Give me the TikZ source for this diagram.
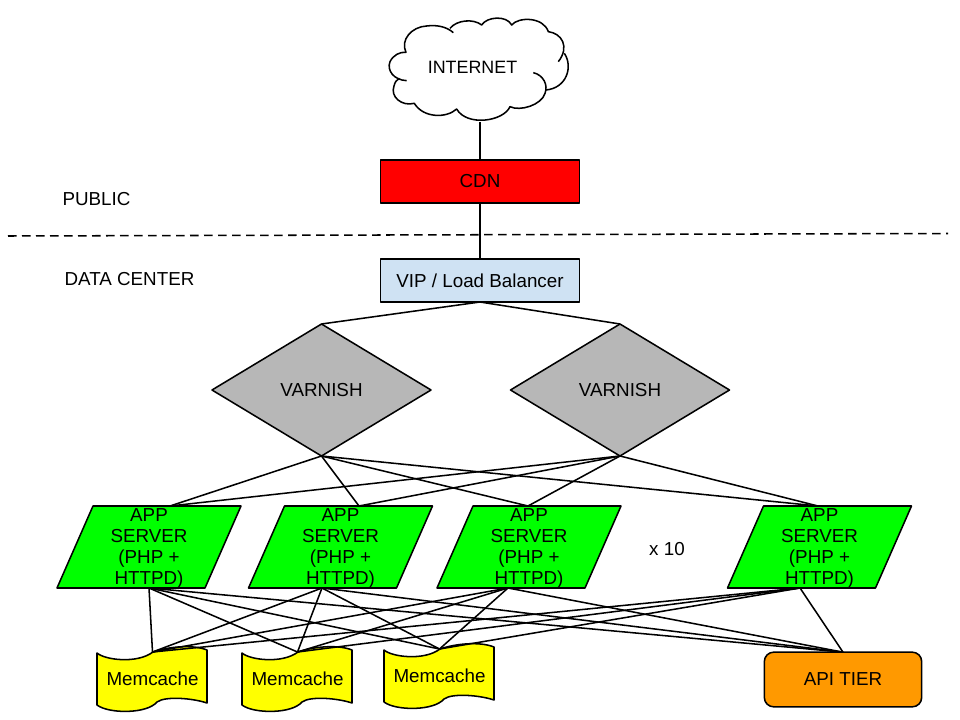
\documentclass[tikz,border=0pt]{standalone}
\usepackage{fontspec}
\setmainfont{Liberation Sans}
\usepackage{xcolor}
\usetikzlibrary{shapes.geometric}
\definecolor{cdnred}{RGB}{255, 0, 0}
\definecolor{vipblue}{RGB}{207, 226, 243}
\definecolor{varnishgray}{RGB}{183, 183, 183}
\definecolor{appgreen}{RGB}{0, 255, 0}
\definecolor{memyellow}{RGB}{255, 255, 0}
\definecolor{apiorange}{RGB}{255, 153, 0}
\tikzset{
  every node/.style={font=\fontsize{14.1}{15.8}\selectfont,inner sep=0pt,outer sep=0pt,align=center},
  edge/.style={line width=1.15pt,line join=round,black},
  boxnode/.style={edge,draw,minimum width=149.25pt,minimum height=32.25pt},
  varnishnode/.style={edge,draw,diamond,aspect=1.66,fill=varnishgray,minimum width=164.25pt,minimum height=99pt},
  appnode/.style={minimum width=138pt,minimum height=61.5pt},
  memnode/.style={minimum width=82pt,minimum height=40.5pt},
  apinode/.style={edge,draw,rounded corners=7pt,fill=apiorange,minimum width=118pt,minimum height=41pt}
}
\begin{document}
\begin{tikzpicture}[x=0.75pt,y=-0.75pt]
        \useasboundingbox (0,0) rectangle (960,720);

        % Cloud
        \begin{scope}[shift={(370,10)},x=0.25pt,y=-0.25pt]
        \draw[edge] (110,212) .. controls (70,210) and (50,180) .. (60,155) .. controls (70,135) and (90,125) .. (108,127)
            .. controls (90,90) and (125,50) .. (170,48) .. controls (200,44) and (230,50) .. (250,68);
        \draw[edge] (240,55) .. controls (260,30) and (310,25) .. (335,45) .. controls (350,20) and (410,15) .. (425,45)
            .. controls (445,20) and (520,20) .. (535,65) .. controls (575,70) and (600,110) .. (565,155);
        \draw[edge] (583,130) .. controls (610,170) and (590,235) .. (527,240);
        \draw[edge] (490,188) .. controls (520,195) and (535,225) .. (525,250) .. controls (515,285) and (450,305) .. (420,290)
            .. controls (400,335) and (290,350) .. (260,297) .. controls (230,325) and (160,325) .. (133,280)
            .. controls (95,290) and (60,260) .. (72,228) .. controls (75,215) and (80,210) .. (88,205);
        \end{scope}
        \node[font=\fontsize{13.4}{16}\selectfont] (internet) at (472.5,67) {INTERNET};
        \coordinate (cloudbottom) at (480,122);

        % Top boxes
        \node[boxnode,fill=cdnred] (cdn) at (480,181.5) {CDN};
        \node[boxnode,fill=vipblue] (vip) at (480,280.5) {VIP / Load Balancer};
        \draw[edge] (cloudbottom) -- (cdn.north);
        \draw[edge] (cdn.south) -- (vip.north);

        % Zones
        \coordinate (zoneleft) at (8,236);
        \coordinate (zoneright) at (948,233.5);
        \draw[edge,dash pattern=on 6.5pt off 4pt] (zoneleft) -- (zoneright);
        \node (public) at (96.5,199.5) {PUBLIC};
        \node (datacenter) at (129.5,279) {DATA CENTER};

        % Varnish
        \node[varnishnode] (var1) at (321.5,390) {VARNISH};
        \node[varnishnode] (var2) at (620,390) {VARNISH};
        \draw[edge] (vip.south) -- (var1.north);
        \draw[edge] (vip.south) -- (var2.north);

        % App servers
        \foreach \name/\x/\top/\bot in {app1/149/170/149,app2/340.5/359/322,app3/529/528/508,app4/819.5/818/800} {
            \draw[edge,fill=appgreen] (\x-92,588) -- (\x-92+148,588) -- (\x+92,506) -- (\x-92+36,506) -- cycle;
            \node[appnode] (\name) at (\x,548.5) {APP\\SERVER\\(PHP +\\HTTPD)};
            \coordinate (\name-top) at (\top,506);
            \coordinate (\name-bot) at (\bot,588);
        }
        \node (times) at (667,549) {x 10};

        % Memcache
        \foreach \name/\x/\y in {mem1/97/0,mem2/242/0,mem3/384/-3} {
            \begin{scope}[shift={(\x,\y)}]
            \draw[edge,fill=memyellow] (0,653) .. controls (8,660) and (40,664) .. (56,652)
                .. controls (70,647) and (95,644) .. (110,650) -- (110,703)
                .. controls (95,698) and (68,696) .. (60,702) .. controls (50,714) and (12,714) .. (0,705) -- cycle;
            \node[memnode] (\name) at (55.5,679) {Memcache};
            \end{scope}
        }

        % API
        \node[apinode] (api) at (843,679.5) {API TIER};

        % Connectors
        \foreach \v in {var1,var2}
            \foreach \a in {app1,app2,app3,app4}
                \draw[edge] (\v.south) -- (\a-top);
        \foreach \a in {app1,app2,app3,app4}
            \foreach \m in {mem1,mem2,mem3,api}
                \draw[edge] (\a-bot) -- (\m.north);
\end{tikzpicture}
\end{document}
